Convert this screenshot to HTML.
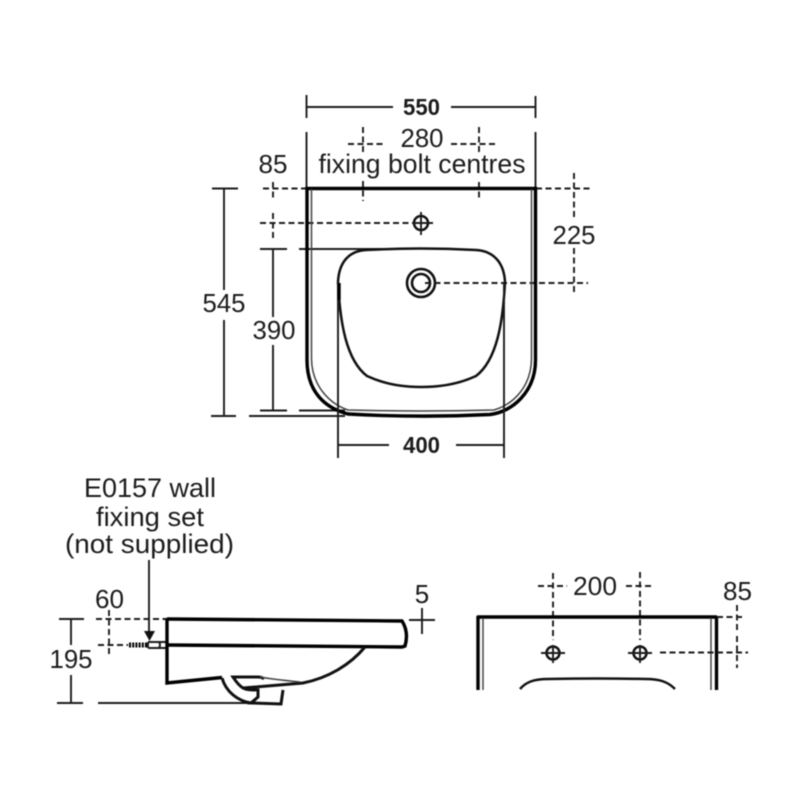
<!DOCTYPE html>
<html>
<head>
<meta charset="utf-8">
<style>
html,body{margin:0;padding:0;background:#fff}
svg{display:block;filter:blur(0.4px)}
text{font-family:"Liberation Sans",sans-serif;fill:#1c1c1c;text-anchor:middle}
.d{fill:none;stroke:#1c1c1c;stroke-width:1.9}
.k{fill:none;stroke:#000;stroke-width:3.4}
.m{fill:none;stroke:#111;stroke-width:2.5}
.t{fill:none;stroke:#444;stroke-width:1.5}
.h{fill:none;stroke:#1c1c1c;stroke-width:1.9;stroke-dasharray:6 3.5}
</style>
</head>
<body>
<svg width="800" height="800" viewBox="0 0 800 800" xmlns="http://www.w3.org/2000/svg">
<rect width="800" height="800" fill="#fff"/>

<!-- Top view: 550 -->
<path class="d" d="M306.500 95V118M535.500 96V118M306.500 107H393M451 107H535.500M306.500 132V188M535.500 132V188"/>
<text x="421.500" y="115" font-size="23" font-weight="bold" textLength="37" lengthAdjust="spacingAndGlyphs">550</text>
<text x="422" y="147" font-size="26" textLength="43" lengthAdjust="spacingAndGlyphs">280</text>
<text x="422" y="173" font-size="27" textLength="207" lengthAdjust="spacingAndGlyphs">fixing bolt centres</text>
<text x="273" y="173" font-size="26" textLength="29" lengthAdjust="spacingAndGlyphs">85</text>
<text x="574" y="244" font-size="26" textLength="43" lengthAdjust="spacingAndGlyphs">225</text>
<text x="224" y="312" font-size="26" textLength="43" lengthAdjust="spacingAndGlyphs">545</text>
<text x="274" y="339" font-size="26" textLength="43" lengthAdjust="spacingAndGlyphs">390</text>
<text x="421.500" y="453" font-size="23" font-weight="bold" textLength="37" lengthAdjust="spacingAndGlyphs">400</text>

<!-- 280 bolt centres -->
<path class="h" d="M363 127V152M363 181V201M479 127V152M479 182V201"/>
<path class="h" d="M348 144H386M451 144H495"/>

<!-- Horizontal centre lines -->
<path class="h" d="M263 188.500H306M536 188.500H590"/>
<path class="h" d="M260 223H412"/>
<path class="h" d="M425 283H588"/>
<path class="h" d="M273 182V198M273 213V238"/>
<path class="h" d="M574 173V219M574 248V294"/>

<!-- Left dimensions -->
<path class="d" d="M212 188.500H238M224 188.500V290M224 320V416M211 416H236M249 416H345"/>
<path class="d" d="M260 249H287M299 249H400M273 249V317M273 345V410M260 410.500H287M299 410.500H345"/>

<!-- Basin outline -->
<path class="k" d="M307 188.500H535.500V360C535.500 392 512 412 490 414.500Q420 418 348 414C325 408 307 392 307 360Z"/>
<path class="t" d="M311.500 189V358C311.500 386 330 404 348 410Q420 412 494 410C514 404 531.500 386 531.500 358V189"/>

<!-- Bowl -->
<path class="m" d="M338 282C339 262 349 251 366 250Q421 247 476 250C493 251 504 262 505 282C503 322 497 360 476 376C459 384 440 387 421 387C402 387 384 384 367 376C346 360 340 322 338 282Z"/>
<path class="d" d="M338 282V433M504 282V433"/>
<path class="k" d="M339 283V300"/>

<!-- Holes -->
<circle class="m" cx="421" cy="223" r="7"/>
<path class="d" d="M421 212V235M412 223H433"/>
<circle cx="421" cy="283" r="14" fill="#fff" stroke="#111" stroke-width="2.6"/>
<circle cx="421" cy="283" r="9" fill="#fff" stroke="#111" stroke-width="2.6"/>
<path class="h" d="M425 283H444"/>

<!-- 400 -->
<path class="d" d="M338 432V458M504 432V458M338 445H389M456 445H504"/>

<!-- Label -->
<text x="150" y="497" font-size="27" textLength="132" lengthAdjust="spacingAndGlyphs">E0157 wall</text>
<text x="150" y="526" font-size="27" textLength="108" lengthAdjust="spacingAndGlyphs">fixing set</text>
<text x="149.500" y="553" font-size="27" textLength="169" lengthAdjust="spacingAndGlyphs">(not supplied)</text>

<!-- Side view -->
<text x="109.500" y="608" font-size="26" textLength="29" lengthAdjust="spacingAndGlyphs">60</text>
<text x="71" y="668" font-size="26" textLength="43" lengthAdjust="spacingAndGlyphs">195</text>
<text x="422" y="603" font-size="26">5</text>

<path class="d" d="M149 560V632"/>
<path d="M144 631H155L149.500 641Z" fill="#111"/>
<path class="h" d="M96 619H166M98 645H128"/>
<path class="h" d="M109 610V654"/>

<path class="d" d="M59 619H84M71 619V645M71 675V703M57 703H83M98 703H252"/>
<path class="d" d="M409 620H435M422 608V634"/>

<!-- Fixing bolt -->
<path class="k" stroke-dasharray="2 1.200" d="M129 645H148" style="stroke-width:5"/>
<path class="d" d="M148 642H159Q161 645 159 648H148M148 642V648M159 642H167M159 648H167"/>

<!-- Basin side -->
<path class="k" d="M167 619L402 621Q409 632 405 646L402 647L167 645"/>
<path class="k" d="M167 618V683L222 677.500"/>
<path class="m" style="stroke-width:3" d="M365 647C350 665 328 678 303 683L243 688C238 685 235 680 233 677H258Q262 677 264 679"/>
<path class="m" style="stroke-width:3" d="M222 678C226 692 238 701 251 703"/>
<path class="m" style="stroke-width:3" d="M243 688C247 690 252 690 258 690V697L251 703L281 704L283 690"/>
<path class="t" d="M260 677Q270 679 300 682"/>

<!-- Front view -->
<text x="595" y="595" font-size="26" textLength="44" lengthAdjust="spacingAndGlyphs">200</text>
<text x="737.500" y="600" font-size="26" textLength="29" lengthAdjust="spacingAndGlyphs">85</text>
<path class="h" d="M553 573V640M640 572V640"/>
<path class="h" d="M538 586H567M626 586H653"/>
<path class="k" d="M477 617H717M478 616V690M716.500 616V690"/>
<path class="t" d="M483 618V690M711 618V690"/>
<path class="h" d="M717 617H745M737 605V630M737 636V668"/>
<path class="h" d="M660 652.500H748"/>
<circle class="m" cx="553" cy="653" r="6.500"/>
<circle class="m" cx="640" cy="653" r="6.500"/>
<path class="d" d="M541 653H565M553 645V663M628 653H652M640 645V663"/>
<path class="m" d="M520 689C526 682 534 679 548 679Q597 678 646 679C660 679 668 682 675 689"/>
</svg>
</body>
</html>
